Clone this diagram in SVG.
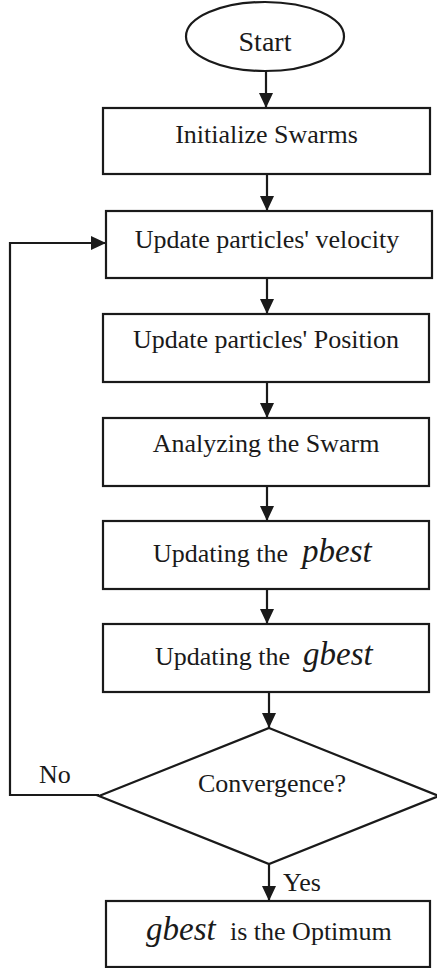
<svg xmlns="http://www.w3.org/2000/svg" width="437" height="968" viewBox="0 0 437 968">
<style>
.box{fill:#fff;stroke:#1a1a1a;stroke-width:2.2}
.ln{fill:none;stroke:#1a1a1a;stroke-width:2.2}
text{font-family:"Liberation Serif","Times New Roman",serif;font-size:26px;fill:#1a1a1a}
.c{text-anchor:middle}
.it{font-style:italic;font-size:33px}
</style>
<defs>
<marker id="ah" markerUnits="userSpaceOnUse" markerWidth="16" markerHeight="16" refX="15" refY="7" orient="auto">
<path d="M0,0 L15,7 L0,14 Z" fill="#1a1a1a"/>
</marker>
</defs>
<rect width="437" height="968" fill="#fff"/>
<g id="connectors">
<line class="ln" x1="266" y1="71" x2="266" y2="108" marker-end="url(#ah)"/>
<line class="ln" x1="267" y1="174" x2="267" y2="211" marker-end="url(#ah)"/>
<line class="ln" x1="267" y1="278" x2="267" y2="314" marker-end="url(#ah)"/>
<line class="ln" x1="267" y1="382" x2="267" y2="418" marker-end="url(#ah)"/>
<line class="ln" x1="267" y1="486" x2="267" y2="521" marker-end="url(#ah)"/>
<line class="ln" x1="267" y1="589" x2="267" y2="624" marker-end="url(#ah)"/>
<line class="ln" x1="269" y1="692" x2="269" y2="728" marker-end="url(#ah)"/>
<line class="ln" x1="269" y1="864" x2="269" y2="901" marker-end="url(#ah)"/>
<polyline class="ln" points="99,795 10,795 10,243 106,243" marker-end="url(#ah)"/>
<text x="39" y="783">No</text>
<text x="283" y="891">Yes</text>
</g>
<g id="start">
<ellipse class="box" cx="265" cy="36.5" rx="79" ry="34.5"/>
<text class="c" x="265" y="51" style="font-size:28px">Start</text>
</g>
<g id="init">
<rect class="box" x="103" y="108" width="327" height="66"/>
<text class="c" x="266.5" y="143">Initialize Swarms</text>
</g>
<g id="velocity">
<rect class="box" x="106" y="211" width="326" height="67"/>
<text class="c" x="267" y="248">Update particles' velocity</text>
</g>
<g id="position">
<rect class="box" x="103" y="314" width="326" height="68"/>
<text class="c" x="266" y="348">Update particles' Position</text>
</g>
<g id="analyze">
<rect class="box" x="103" y="418" width="326" height="68"/>
<text class="c" x="266" y="452">Analyzing the Swarm</text>
</g>
<g id="pbest">
<rect class="box" x="103" y="521" width="326" height="68"/>
<text x="153" y="562">Updating the</text>
<text class="it" x="302" y="562">pbest</text>
</g>
<g id="gbest">
<rect class="box" x="103" y="624" width="326" height="68"/>
<text x="155" y="665">Updating the</text>
<text class="it" x="303" y="665">gbest</text>
</g>
<g id="convergence">
<polygon class="box" points="269,728 439,796 269,864 99,796"/>
<text class="c" x="272" y="792">Convergence?</text>
</g>
<g id="optimum">
<rect class="box" x="106" y="901" width="324" height="66"/>
<text class="it" x="146" y="940">gbest</text>
<text x="230" y="940">is the Optimum</text>
</g>
</svg>
